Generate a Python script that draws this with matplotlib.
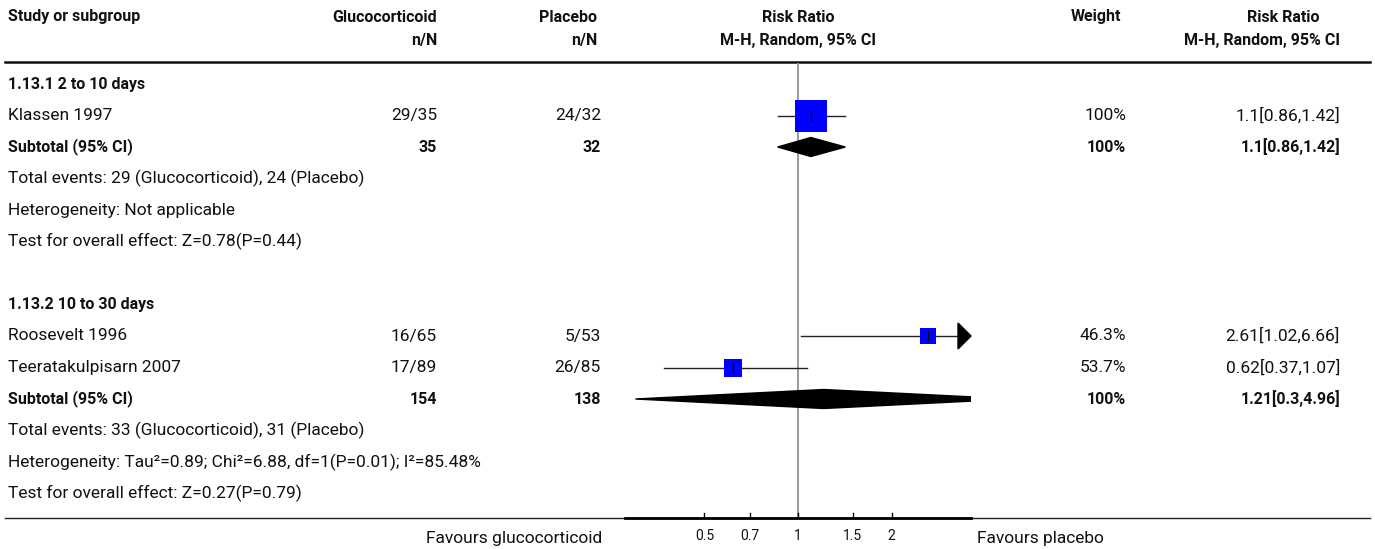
import numpy as np
import matplotlib.pyplot as plt
from matplotlib.patches import Polygon
from matplotlib.transforms import blended_transform_factory

plt.rcParams['font.family'] = ['Roboto', 'DejaVu Sans']

# studies
studies = ['Klassen 1997', 'Roosevelt 1996', 'Teeratakulpisarn 2007']
study_group = [0, 1, 1]
treat_events = ['29/35', '16/65', '17/89']
ctrl_events = ['24/32', '5/53', '26/85']
rr = [1.1, 2.61, 0.62]
rr_lo = [0.86, 1.02, 0.37]
rr_hi = [1.42, 6.66, 1.07]
weight = [100, 46.3, 53.7]

# subgroups
group_titles = ['1.13.1 2 to 10 days', '1.13.2 10 to 30 days']
sub_treat_n = [35, 154]
sub_ctrl_n = [32, 138]
sub_rr = [1.1, 1.21]
sub_lo = [0.86, 0.3]
sub_hi = [1.42, 4.96]
sub_weight = [100, 100]
total_events = ['Total events: 29 (Glucocorticoid), 24 (Placebo)',
                'Total events: 33 (Glucocorticoid), 31 (Placebo)']
heterogeneity = ['Heterogeneity: Not applicable',
                 'Heterogeneity: Tau\u00b2=0.89; Chi\u00b2=6.88, df=1(P=0.01); I\u00b2=85.48%']
overall = ['Test for overall effect: Z=0.78(P=0.44)',
           'Test for overall effect: Z=0.27(P=0.79)']

ticks = [0.5, 0.7, 1, 1.5, 2]
tick_labels = ['0.5', '0.7', '1', '1.5', '2']

W, H = 1375, 549
fig = plt.figure(figsize=(W / 100, H / 100), dpi=100)
ax = fig.add_axes([0, 0, 1, 1])
ax.set_xlim(0, W)
ax.set_ylim(H, 0)
ax.axis('off')

FS, FS_B = 12.5, 11.5
x_name, x_t, x_c, x_rr, x_w, x_ci = 8, 437, 601, 798, 1126, 1340

def txt(x, y, s, ha='left', bold=False):
    ax.text(x, y, s, ha=ha, va='center', fontsize=FS_B if bold else FS,
            fontweight='bold' if bold else 'normal', color='#111111')

# header
txt(x_name, 17, 'Study or subgroup', bold=True)
txt(x_t, 17, 'Glucocorticoid', ha='right', bold=True)
txt(597, 17, 'Placebo', ha='right', bold=True)
txt(x_rr, 17, 'Risk Ratio', ha='center', bold=True)
txt(1096, 17, 'Weight', ha='center', bold=True)
txt(1283, 17, 'Risk Ratio', ha='center', bold=True)
txt(x_t, 40, 'n/N', ha='right', bold=True)
txt(597, 40, 'n/N', ha='right', bold=True)
txt(x_rr, 40, 'M-H, Random, 95% CI', ha='center', bold=True)
txt(x_ci, 40, 'M-H, Random, 95% CI', ha='right', bold=True)
ax.plot([5, 1370], [62, 62], color='#111111', lw=1.8)

# forest axes, log scale with 135 px per ln unit centred on RR=1
ax_l, ax_r = 625, 971
span = (ax_r - x_rr) / 135.0
fax = fig.add_axes([ax_l / W, 0, (ax_r - ax_l) / W, 1])
fax.set_xscale('log')
fax.set_xlim(np.exp(-span), np.exp(span))
fax.set_ylim(H, 0)
fax.axis('off')
mix = blended_transform_factory(fax.transAxes, fax.transData)

y0, step = 84, 31.5
row = 0
rows_study = {}
rows_sub = []
for g, title in enumerate(group_titles):
    txt(x_name, y0 + row * step, title, bold=True)
    row += 1
    for i in range(len(studies)):
        if study_group[i] == g:
            rows_study[i] = y0 + row * step
            row += 1
    rows_sub.append(y0 + row * step)
    row += 5 if g == 0 else 3

ax_line_y = 518
fax.plot([1, 1], [64, ax_line_y], color='#999999', lw=1.4, zorder=1)

xmax = np.exp(span)
for i, name in enumerate(studies):
    y = rows_study[i]
    txt(x_name, y, name)
    txt(x_t, y, treat_events[i], ha='right')
    txt(x_c, y, ctrl_events[i], ha='right')
    txt(x_w, y, f'{weight[i]:g}%', ha='right')
    txt(x_ci, y, f'{rr[i]:g}[{rr_lo[i]:g},{rr_hi[i]:g}]', ha='right')
    hi = rr_hi[i]
    if hi > xmax:
        # interval runs off the scale: end it with an arrow head
        base = 1 - 13 / (ax_r - ax_l)
        fax.plot([rr_lo[i], np.exp(span * (2 * base - 1))], [y, y], color='#222222', lw=1, zorder=2)
        fax.add_patch(Polygon([[base, y - 13], [1, y], [base, y + 13]], closed=True,
                              transform=mix, color='black', zorder=3, clip_on=False))
    else:
        fax.plot([rr_lo[i], hi], [y, y], color='#222222', lw=1, zorder=2)
    side = (2 + 29 * weight[i] / 100) * 0.75
    fax.plot(rr[i], y, marker='s', ms=side, color='#0000ff', mew=0, zorder=4)
    fax.plot([rr[i], rr[i]], [y - 4, y + 4], color='black', lw=1, zorder=5)

for g in range(len(group_titles)):
    y = rows_sub[g]
    txt(x_name, y, 'Subtotal (95% CI)', bold=True)
    txt(x_t, y, str(sub_treat_n[g]), ha='right', bold=True)
    txt(x_c, y, str(sub_ctrl_n[g]), ha='right', bold=True)
    txt(x_w, y, f'{sub_weight[g]:g}%', ha='right', bold=True)
    txt(x_ci, y, f'{sub_rr[g]:g}[{sub_lo[g]:g},{sub_hi[g]:g}]', ha='right', bold=True)
    txt(x_name, y + step, total_events[g])
    txt(x_name, y + 2 * step, heterogeneity[g])
    txt(x_name, y + 3 * step, overall[g])
    d = Polygon([[sub_lo[g], y], [sub_rr[g], y - 9.5], [sub_hi[g], y], [sub_rr[g], y + 9.5]],
                closed=True, color='black', zorder=3)
    fax.add_patch(d)

# bottom axis
ax.plot([5, 1370], [ax_line_y, ax_line_y], color='#222222', lw=1)
fax.plot([np.exp(-span), np.exp(span)], [ax_line_y, ax_line_y], color='black', lw=2, clip_on=False)
for t, lab in zip(ticks, tick_labels):
    fax.plot([t, t], [ax_line_y - 5, ax_line_y], color='black', lw=1)
    fax.text(t, 536, lab, ha='center', va='center', fontsize=10, color='#111111')
txt(602, 538, 'Favours glucocorticoid', ha='right')
txt(977, 538, 'Favours placebo')

fig.savefig('out.png', dpi=100)
